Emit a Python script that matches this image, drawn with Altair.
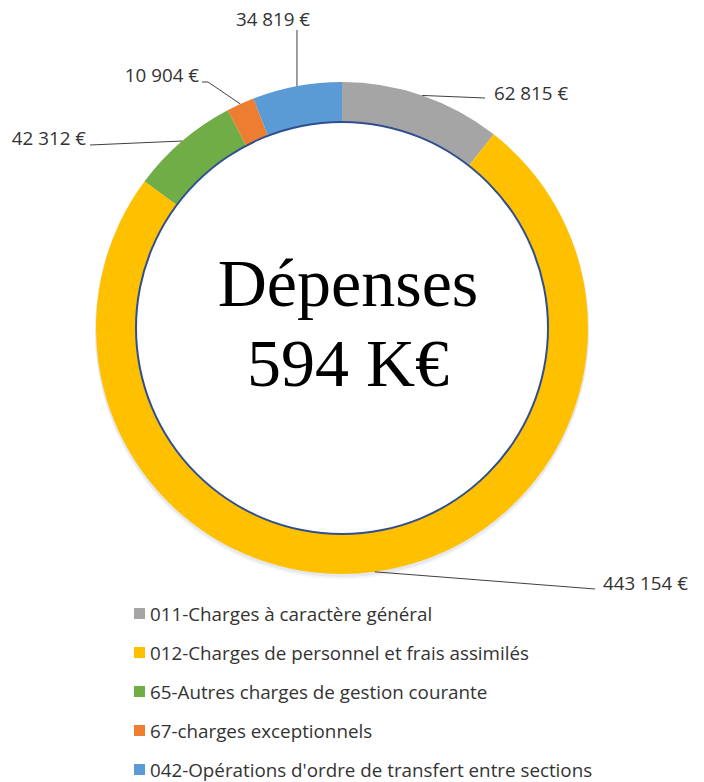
import math
import altair as alt
import pandas as pd

# ---- data ----
categories = [
    "011-Charges à caractère général",
    "012-Charges de personnel et frais assimilés",
    "65-Autres charges de gestion courante",
    "67-charges exceptionnels",
    "042-Opérations d'ordre de transfert entre sections",
]
values = [62815, 443154, 42312, 10904, 34819]
colors = ["#A5A5A5", "#FFC000", "#70AD47", "#ED7D31", "#5B9BD5"]
title_word = "Dépenses"

# ---- layout (chart coordinates = page - 8) ----
OFF = 8
CX, CY = 342 - OFF, 328 - OFF
R_OUT, R_IN = 246, 206
LABEL_FONT = "Open Sans"
TEXT_COLOR = "#333333"

def fmt(v):
    return f"{v:,}".replace(",", " ") + " €"

total = sum(values)
# anchor points on outer ring at mid-angle of each slice (from data)
anchors = []
cum = 0
for v in values:
    mid = (cum + v / 2) / total * 2 * math.pi
    anchors.append((CX + R_OUT * math.sin(mid), CY - R_OUT * math.cos(mid)))
    cum += v

# label placement: text position (page coords), align, elbow points
label_layout = [
    dict(tx=494, ty=100, align="left", pts=[(485, 98)]),
    dict(tx=603, ty=590, align="left", pts=[(595, 589)]),
    dict(tx=86, ty=145, align="right", pts=[(90, 145)]),
    dict(tx=199, ty=82, align="right", pts=[(208, 82), (202, 82)]),
    dict(tx=273, ty=26, align="center", pts=[(None, 30)]),
]

ring_df = pd.DataFrame({
    "cat": categories, "value": values, "idx": list(range(len(values)))
})

seg_rows = []
lab_rows = []
for i, (lay, (ax, ay)) in enumerate(zip(label_layout, anchors)):
    px, py = ax, ay
    for (qx, qy) in lay["pts"]:
        qx = px if qx is None else qx - OFF
        qy = qy - OFF
        seg_rows.append(dict(x=px, y=py, x2=qx, y2=qy))
        px, py = qx, qy
    lab_rows.append(dict(x=lay["tx"] - OFF, y=lay["ty"] - OFF,
                         text=fmt(values[i]), align=lay["align"]))
seg_df = pd.DataFrame(seg_rows)
lab_df = pd.DataFrame(lab_rows)

leg_df = pd.DataFrame({
    "cat": categories,
    "y": [613.5 - OFF + 39 * i for i in range(len(categories))],
    "idx": list(range(len(categories))),
})

center_df = pd.DataFrame({
    "text": [title_word, f"{round(total / 1000)} K€"],
    "y": [306 - OFF, 386 - OFF],
})

color_scale = alt.Scale(domain=categories, range=colors)

shadows = [
    alt.Chart(pd.DataFrame({"a": [1]})).mark_arc(
        radius=R_OUT + 1, radius2=R_OUT - 20, theta=0, theta2=2 * math.pi,
        color="#3A4A70", opacity=op,
    ).encode(x=alt.value(CX), y=alt.value(CY + dy))
    for dy, op in [(4, 0.05), (2, 0.08)]
]

ring = alt.Chart(ring_df).mark_arc(radius=R_OUT, radius2=R_IN, stroke=None).encode(
    theta=alt.Theta("value:Q", stack=True),
    order=alt.Order("idx:Q"),
    color=alt.Color("cat:N", scale=color_scale, legend=None),
    x=alt.value(CX), y=alt.value(CY),
)

inner_line = alt.Chart(pd.DataFrame({"a": [1]})).mark_arc(
    radius=R_IN + 1, radius2=R_IN - 1, theta=0, theta2=2 * math.pi,
    color="#2F4F8F",
).encode(x=alt.value(CX), y=alt.value(CY))

X = lambda f: alt.X(f, scale=None, axis=None)
Y = lambda f: alt.Y(f, scale=None, axis=None)

leaders = alt.Chart(seg_df).mark_rule(color="#404040", strokeWidth=1).encode(
    x=X("x:Q"), y=Y("y:Q"), x2="x2:Q", y2="y2:Q"
)

labels = []
for al in ["left", "right", "center"]:
    labels.append(
        alt.Chart(lab_df[lab_df["align"] == al]).mark_text(
            align=al, baseline="alphabetic", font=LABEL_FONT, fontSize=18.8,
            color=TEXT_COLOR,
        ).encode(x=X("x:Q"), y=Y("y:Q"), text="text:N")
    )

leg_sq = alt.Chart(leg_df).mark_square(size=121, opacity=1).encode(
    x=alt.value(139.5 - OFF), y=Y("y:Q"),
    color=alt.Color("cat:N", scale=color_scale, legend=None),
)
leg_txt = alt.Chart(leg_df).mark_text(
    align="left", baseline="middle", font=LABEL_FONT, fontSize=18.8,
    color=TEXT_COLOR, dy=1,
).encode(x=alt.value(150 - OFF), y=Y("y:Q"), text="cat:N")

center = alt.Chart(center_df).mark_text(
    align="center", baseline="alphabetic", font="Liberation Serif",
    fontSize=68, color="#000000",
).encode(x=alt.value(348 - OFF), y=Y("y:Q"), text="text:N")

chart = alt.layer(
    *shadows, ring, inner_line, leaders, *labels, leg_sq, leg_txt, center
).properties(
    width=704 - 2 * OFF, height=782 - OFF, padding=0, autosize="none"
).configure_view(stroke=None)

chart.save("out.html", embed_options={"renderer": "svg", "actions": False})
